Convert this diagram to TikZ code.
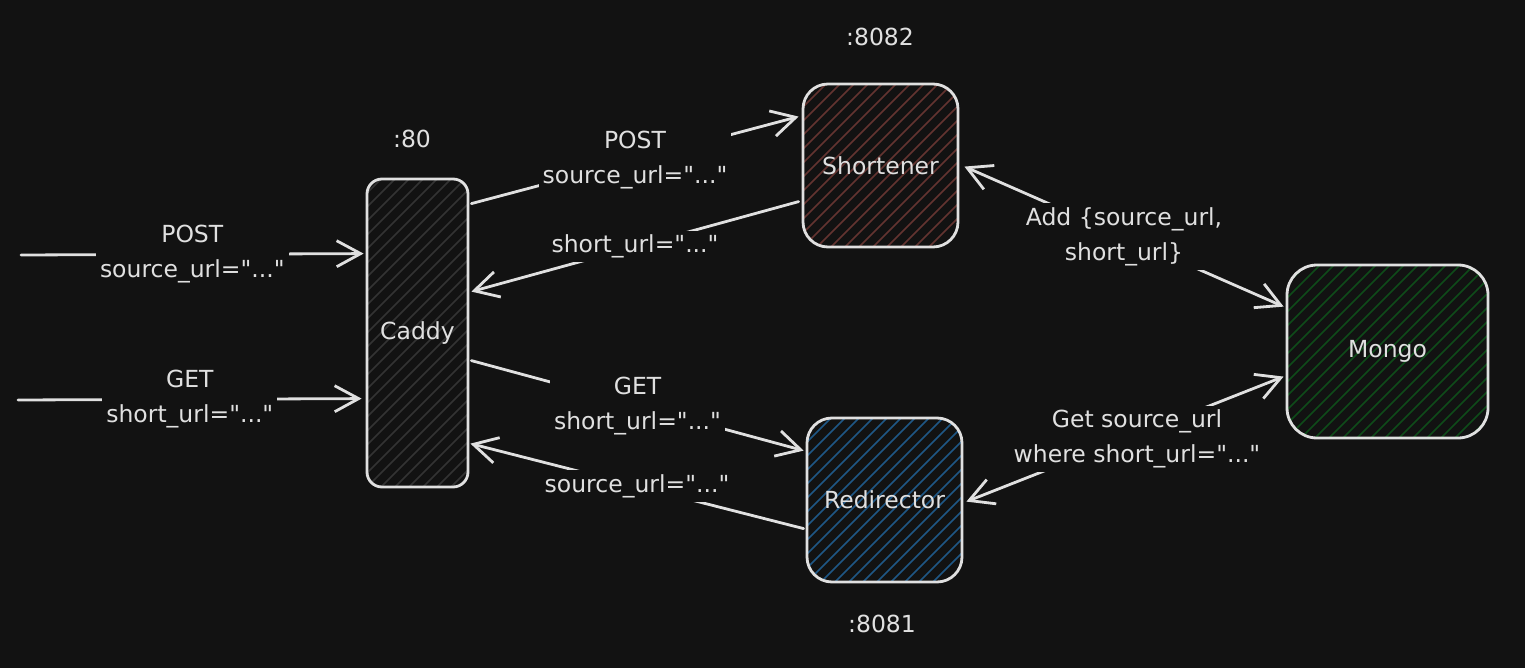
\documentclass[tikz,border=0pt]{standalone}
\usepackage{fontspec}
\setmainfont{DejaVu Sans}[Ligatures=TeXOff]
\usetikzlibrary{arrows.meta,calc}
\definecolor{bg}{HTML}{121212}
\definecolor{fg}{HTML}{E0E0E0}
\definecolor{hgray}{HTML}{333333}
\definecolor{hred}{HTML}{633430}
\definecolor{hblue}{HTML}{1F5785}
\definecolor{hgreen}{HTML}{0F4B19}
\newcommand\dfont{\fontsize{23.5}{35}\selectfont}
\tikzset{
  box/.style={draw=fg, line width=2.8pt, inner sep=0pt, text=fg, font=\dfont, align=center},
  hatched/.style={path picture={
      \foreach \i in {-25,...,16}{
        \draw[#1, line width=1.5pt] ($(path picture bounding box.south west)+(\i*14pt,0pt)$) -- ++(500pt,500pt);
      }}},
  conn/.style={draw=fg, line width=2.8pt, line cap=round, line join=round},
  lab/.style={fill=bg, text=fg, align=center, font=\dfont, inner sep=4pt},
  port/.style={text=fg, font=\dfont},
  >={Straight Barb[length=24pt,width=26pt]}
}
\begin{document}
\begin{tikzpicture}[x=1pt,y=-1pt]
\fill[bg] (0,0) rectangle (1525,668);
\useasboundingbox (0,0) rectangle (1525,668);

\node[box, hatched=hgray, rounded corners=15pt, minimum width=101pt, minimum height=308pt] (caddy) at (417.5,333) {Caddy};
\node[box, hatched=hred, rounded corners=25pt, minimum width=155pt, minimum height=163pt] (short) at (880.5,165.5) {Shortener};
\node[box, hatched=hblue, rounded corners=25pt, minimum width=155pt, minimum height=164pt] (redir) at (884.5,500) {Redirector};
\node[box, hatched=hgreen, rounded corners=30pt, minimum width=201pt, minimum height=173pt] (mongo) at (1387.5,351.5) {Mongo};

\node[port] (p80) at (412,139) {:80};
\node[port] (p8082) at (880,37) {:8082};
\node[port] (p8081) at (882,624) {:8081};

\coordinate (in1) at (21,255);
\coordinate (in2) at (18,400);

\draw[conn,->] (in1) -- node[lab] {POST\\source\_url="..."} ([xshift=-2pt,yshift=-76pt]caddy.north west);
\draw[conn,->] (in2) -- node[lab] {GET\\short\_url="..."} ([xshift=-4pt,yshift=-221pt]caddy.north west);

\draw[conn,->] ([xshift=2pt,yshift=-26pt]caddy.north east) -- node[lab] {POST\\source\_url="..."} ([xshift=-3pt,yshift=-34pt]short.north west);
\draw[conn,->] ([xshift=-3pt,yshift=-119pt]short.north west) -- node[lab] {short\_url="..."} ([xshift=2pt,yshift=-114pt]caddy.north east);
\draw[conn,->] ([xshift=2pt,yshift=-183pt]caddy.north east) -- node[lab] {GET\\short\_url="..."} ([xshift=-2pt,yshift=-34pt]redir.north west);
\draw[conn,->] ([xshift=-2pt,yshift=-112pt]redir.north west) -- node[lab] {source\_url="..."} ([xshift=1pt,yshift=-266pt]caddy.north east);

\draw[conn,<->] ([xshift=5pt,yshift=-84pt]short.north east) -- node[lab] {Add \{source\_url,\\short\_url\}} ([xshift=-2pt,yshift=-43pt]mongo.north west);
\draw[conn,<->] ([xshift=3pt,yshift=-85pt]redir.north east) -- node[lab, xshift=12pt] {Get source\_url\\where short\_url="..."} ([xshift=-2pt,yshift=-113pt]mongo.north west);
\end{tikzpicture}
\end{document}
